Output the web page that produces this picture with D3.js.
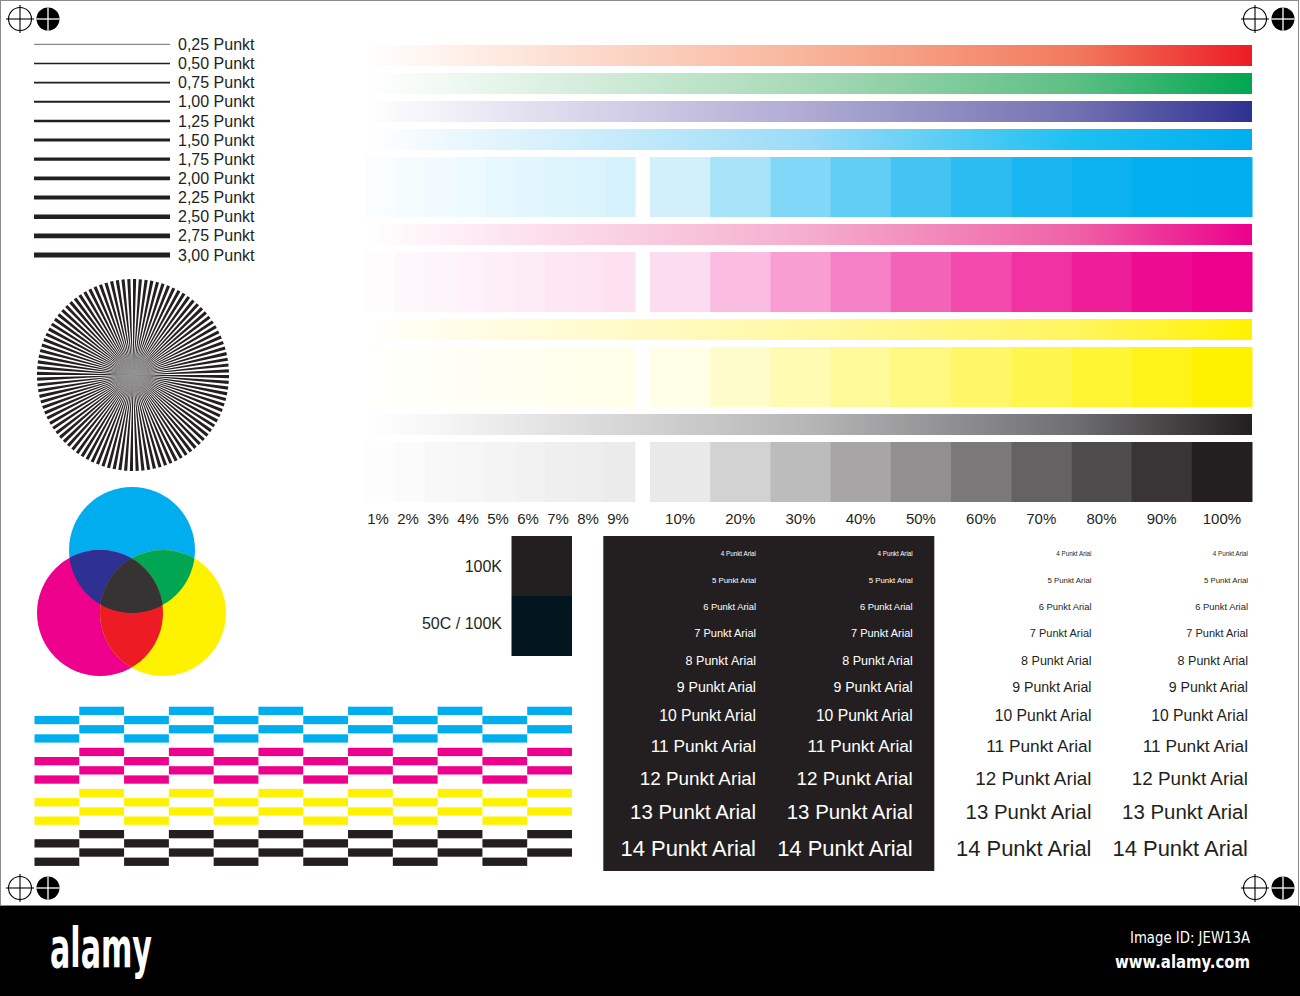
<!DOCTYPE html>
<html><head><meta charset="utf-8">
<script src="https://cdn.jsdelivr.net/npm/d3@7"></script>
<style>
body{margin:0;background:#fff}
svg{display:block}
text{font-family:"Liberation Sans",Arial,sans-serif}
</style>
</head><body>
<svg id="c" width="1300" height="996"></svg>
<script>
// ---------- data ----------
const lineWeights = [0.25,0.50,0.75,1.00,1.25,1.50,1.75,2.00,2.25,2.50,2.75,3.00];
const fineTints = [1,2,3,4,5,6,7,8,9];
const coarseTints = [10,20,30,40,50,60,70,80,90,100];
const inkNames = ["cyan","magenta","yellow","black"];
const inkColors = ["#00aeef","#ec008c","#fff200","#231f20"];
const inkGain = [1.9,1.35,1.0,1.0];
const gradientBarNames = ["red","green","violet","cyan","magenta","yellow","black"];
const gradientOffsets = [0,0.08,0.5,0.8,1];
const gradientRed = ["#ffffff","#fff4ee","#f8b49a","#f27a5c","#ed1c24"];
const gradientGreen = ["#ffffff","#f2faf4","#a7d9b7","#5dbf84","#00a651"];
const gradientViolet = ["#ffffff","#f3f2f9","#aeaad3","#7471b2","#2e3192"];
const gradientCyan = ["#ffffff","#f0f9fe","#9adbf8","#1ec0f1","#00aeef"];
const gradientMagenta = ["#ffffff","#fef2f7","#f5adcd","#ef62a6","#ec008c"];
const gradientYellow = ["#ffffff","#fffdec","#fff8a4","#fff55e","#fff200"];
const gradientBlack = ["#ffffff","#f6f6f6","#b6b6b7","#6f6e70","#231f20"];
const fontPoints = [4,5,6,7,8,9,10,11,12,13,14];
const blackPatchLabels = ["100K","50C / 100K"];
const blackPatchColors = ["#231f20","#03151f"];
const checkerColumns = d3.range(12);
const checkerRows = d3.range(4);
const spokeCount = 104;

// ---------- setup ----------
const svg = d3.select("#c");
const defs = svg.append("defs");
const textDark = "#231f20";

// page frame
svg.append("rect").attr("x",0.5).attr("y",0.5).attr("width",1298).attr("height",905)
  .attr("fill","#fff").attr("stroke","#8a8a8a");

// registration marks
function regMarks(cx, cy){
  const g = svg.append("g").attr("transform",`translate(${cx},${cy})`);
  g.append("circle").attr("r",11.5).attr("fill","none").attr("stroke","#000").attr("stroke-width",1.1);
  g.append("line").attr("x1",-14).attr("x2",14).attr("stroke","#000").attr("stroke-width",1.1);
  g.append("line").attr("y1",-14).attr("y2",14).attr("stroke","#000").attr("stroke-width",1.1);
  const f = svg.append("g").attr("transform",`translate(${cx+28},${cy})`);
  f.append("circle").attr("r",11.5).attr("fill","#000");
  f.append("line").attr("x1",-11.5).attr("x2",11.5).attr("stroke","#fff").attr("stroke-width",1.3);
  f.append("line").attr("y1",-11.5).attr("y2",11.5).attr("stroke","#fff").attr("stroke-width",1.3);
}
regMarks(20,19); regMarks(1255,19); regMarks(20,888); regMarks(1255,888);

// ---------- line weights ----------
const lwLabel = d => d.toFixed(2).replace(".",",") + " Punkt";
const yLW = d3.scalePoint().domain(lineWeights).range([44.3,255]);
const wLW = d3.scaleLinear().domain([0.25,3]).range([1,5.2]);
const lw = svg.append("g");
lw.selectAll("line").data(lineWeights).join("line")
  .attr("x1",34).attr("x2",170).attr("y1",d=>yLW(d)).attr("y2",d=>yLW(d))
  .attr("stroke",d=> d<0.5 ? "#6d6e71" : textDark).attr("stroke-width",d=>wLW(d));
lw.selectAll("text").data(lineWeights).join("text")
  .attr("x",178).attr("y",d=>yLW(d)+5.6).attr("font-size",16).attr("fill",textDark)
  .text(lwLabel);

// ---------- starburst ----------
const arc = d3.arc().innerRadius(0).outerRadius(96);
const step = 2*Math.PI/spokeCount;
const star = svg.append("g").attr("transform","translate(133,375)");
star.selectAll("path").data(d3.range(spokeCount)).join("path")
  .attr("d",i=>arc({startAngle:i*step,endAngle:i*step+step*0.55}))
  .attr("fill",textDark);
star.append("circle").attr("r",22).attr("fill","#8a8a8a").attr("opacity",0.55);

// ---------- CMY circles ----------
const circ = [
  {name:"c",cx:132,cy:550,color:inkColors[0]},
  {name:"m",cx:100,cy:613,color:inkColors[1]},
  {name:"y",cx:163,cy:613,color:inkColors[2]}
];
const R = 63;
circ.forEach(c=>{
  defs.append("clipPath").attr("id","clip-"+c.name)
    .append("circle").attr("cx",c.cx).attr("cy",c.cy).attr("r",R);
});
const cg = svg.append("g");
circ.forEach(c=>cg.append("circle").attr("cx",c.cx).attr("cy",c.cy).attr("r",R).attr("fill",c.color));
function overlap(a,b,color){
  cg.append("g").attr("clip-path",`url(#clip-${a.name})`)
    .append("circle").attr("cx",b.cx).attr("cy",b.cy).attr("r",R).attr("fill",color);
}
overlap(circ[0],circ[1],"#2e3192");
overlap(circ[0],circ[2],"#00a651");
overlap(circ[1],circ[2],"#ed1c24");
cg.append("g").attr("clip-path","url(#clip-c)")
  .append("g").attr("clip-path","url(#clip-m)")
  .append("circle").attr("cx",circ[2].cx).attr("cy",circ[2].cy).attr("r",R).attr("fill","#353334");

// ---------- checker pattern ----------
const xChk = d3.scaleBand().domain(checkerColumns).range([34.5,572]);
const chk = svg.append("g");
inkNames.forEach((ink,gi)=>{
  checkerRows.forEach(r=>{
    const y0 = 706.7 + gi*41.1 + r*9.2;
    chk.selectAll(null).data(checkerColumns.filter(c=>(c+r)%2===1)).join("rect")
      .attr("x",c=>xChk(c)).attr("width",xChk.bandwidth()).attr("y",y0).attr("height",8.3)
      .attr("fill",inkColors[gi]);
  });
});

// ---------- gradient bars & tint steps ----------
const xGrad = d3.scaleLinear().domain([0,1]).range([365,1252]);
const xFine = d3.scaleBand().domain(fineTints).range([365,635]);
const xCoarse = d3.scaleBand().domain(coarseTints).range([650,1252]);
const gradSets = [gradientRed,gradientGreen,gradientViolet,gradientCyan,gradientMagenta,gradientYellow,gradientBlack];
gradientBarNames.forEach((n,i)=>{
  const lg = defs.append("linearGradient").attr("id","g-"+n).attr("x1",0).attr("x2",1).attr("y1",0).attr("y2",0);
  gradientOffsets.forEach((o,k)=>lg.append("stop").attr("offset",o).attr("stop-color",gradSets[i][k]));
});
const layout = [
  {type:"grad",key:"red"},{type:"grad",key:"green"},{type:"grad",key:"violet"},
  {type:"grad",key:"cyan"},{type:"step",key:0},
  {type:"grad",key:"magenta"},{type:"step",key:1},
  {type:"grad",key:"yellow"},{type:"step",key:2},
  {type:"grad",key:"black"},{type:"step",key:3}
];
const tint = (ink,p) => d3.interpolateRgb("#ffffff",inkColors[ink])(1-Math.pow(1-p/100,inkGain[ink]));
let yCur = 45;
const bars = svg.append("g");
layout.forEach(row=>{
  if(row.type==="grad"){
    bars.append("rect").attr("x",xGrad(0)).attr("width",xGrad(1)-xGrad(0))
      .attr("y",yCur).attr("height",21).attr("fill",`url(#g-${row.key})`);
    yCur += 21+7;
  } else {
    const y = yCur;
    bars.selectAll(null).data(fineTints).join("rect")
      .attr("x",d=>xFine(d)).attr("width",xFine.bandwidth()+0.5).attr("y",y).attr("height",60)
      .attr("fill",d=>tint(row.key,d));
    bars.selectAll(null).data(coarseTints).join("rect")
      .attr("x",d=>xCoarse(d)).attr("width",xCoarse.bandwidth()+0.5).attr("y",y).attr("height",60)
      .attr("fill",d=>tint(row.key,d));
    yCur += 60+7;
  }
});
const lab = svg.append("g").attr("font-size",15).attr("fill",textDark).attr("text-anchor","middle");
lab.selectAll(null).data(fineTints).join("text")
  .attr("x",d=>xFine(d)+xFine.bandwidth()/2-2).attr("y",523.5).text(d=>d+"%");
lab.selectAll(null).data(coarseTints).join("text")
  .attr("x",d=>xCoarse(d)+xCoarse.bandwidth()/2).attr("y",523.5).text(d=>d+"%");

// ---------- rich black patches ----------
const yPatch = d3.scaleBand().domain(blackPatchLabels).range([536,656]);
const pg = svg.append("g");
pg.selectAll("rect").data(blackPatchLabels).join("rect")
  .attr("x",511.5).attr("width",60.5).attr("y",d=>yPatch(d)).attr("height",yPatch.bandwidth())
  .attr("fill",(d,i)=>blackPatchColors[i]);
pg.selectAll("text").data(blackPatchLabels).join("text")
  .attr("x",502).attr("y",(d,i)=>yPatch(d)+yPatch.bandwidth()/2+(i?-3:0)+5.8)
  .attr("text-anchor","end").attr("font-size",16).attr("fill",textDark).text(d=>d);

// ---------- font size panels ----------
svg.append("rect").attr("x",603.3).attr("y",536).attr("width",331).attr("height",335).attr("fill",textDark);
const pxPerPt = 1.57;
const yCenters = [];
fontPoints.forEach((p,i)=>{
  if(i===0){ yCenters.push(554); return; }
  const avg = (fontPoints[i-1]+p)/2*pxPerPt;
  yCenters.push(yCenters[i-1] + Math.max(26.5, 1.2*avg+10.6));
});
const columns = [{x:756,color:"#ffffff"},{x:912.7,color:"#ffffff"},{x:1091.5,color:textDark},{x:1248,color:textDark}];
columns.forEach(col=>{
  svg.append("g").attr("text-anchor","end").attr("fill",col.color)
    .selectAll("text").data(fontPoints).join("text")
    .attr("x",col.x).attr("y",(d,i)=>yCenters[i]+0.36*d*pxPerPt)
    .attr("font-size",d=>d*pxPerPt).text(d=>d+" Punkt Arial");
});

// ---------- bottom bar ----------
svg.append("rect").attr("x",0).attr("y",906).attr("width",1300).attr("height",90).attr("fill","#000");
svg.append("text").attr("x",50).attr("y",967).attr("font-size",56).attr("font-weight","bold")
  .attr("fill","#fff").attr("textLength",102).attr("lengthAdjust","spacingAndGlyphs")
  .style("font-family","'DejaVu Sans Condensed','DejaVu Sans',sans-serif").text("alamy");
svg.append("text").attr("x",1250).attr("y",943).attr("font-size",15).attr("text-anchor","end")
  .attr("fill","#fff").attr("textLength",120).attr("lengthAdjust","spacingAndGlyphs")
  .style("font-family","'DejaVu Sans Condensed','DejaVu Sans',sans-serif").text("Image ID: JEW13A");
svg.append("text").attr("x",1250).attr("y",968).attr("font-size",17).attr("font-weight","bold").attr("text-anchor","end")
  .attr("fill","#fff").attr("textLength",135).attr("lengthAdjust","spacingAndGlyphs")
  .style("font-family","'DejaVu Sans Condensed','DejaVu Sans',sans-serif").text("www.alamy.com");
</script>
</body></html>
